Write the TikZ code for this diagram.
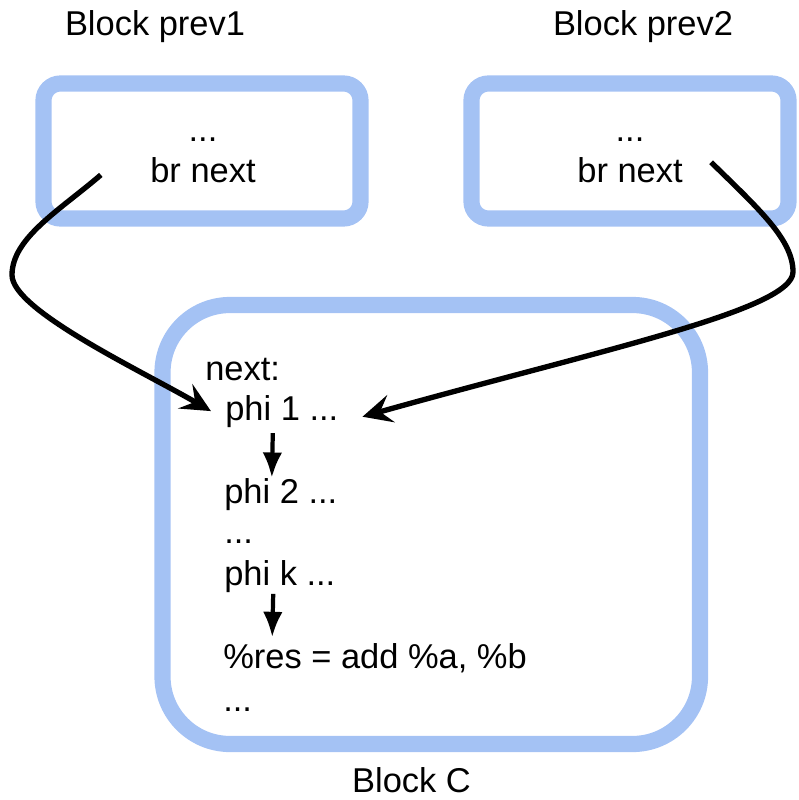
\documentclass[tikz,border=0pt]{standalone}
\usepackage{fontspec}
\setmainfont{Liberation Sans}
\usetikzlibrary{arrows.meta}
\definecolor{blockblau}{HTML}{A4C2F4}
\begin{document}
\begin{tikzpicture}[x=0.025cm,y=-0.025cm]

	% Stile
	\tikzstyle{block} = [draw=blockblau,line width=11.5pt,rounded corners=12pt]
	\tikzstyle{blocktitle} = [inner sep=0pt,anchor=base]
	\tikzstyle{code} = [inner sep=0pt,anchor=base west]
	\tikzstyle{jump} = [line width=3.8pt,-{Stealth[length=21pt,width=20pt,inset=8pt]}]
	\tikzstyle{flow} = [line width=3pt,-{Latex[length=18pt,width=14pt]}]

	\useasboundingbox (0,0) rectangle (798,800);
	\fontsize{24.5}{29.4}\selectfont

	% Bloecke
	\draw[block] (43.5,83.5) rectangle (360.5,218.5);
	\draw[block] (471.5,83.5) rectangle (788.5,218.5);
	\draw[block,rounded corners=48pt] (162.5,305) rectangle (700,744);

	% Titel
	\node[blocktitle] (t1) at (155,36) {Block prev1};
	\node[blocktitle] (t2) at (643,36) {Block prev2};
	\node[blocktitle] (tc) at (411.5,792) {Block C};

	% Vorgaenger
	\node[blocktitle] (dots1) at (203,142) {...};
	\node[blocktitle] (br1) at (203,183) {br next};
	\node[blocktitle] (dots2) at (630,142) {...};
	\node[blocktitle] (br2) at (630,183) {br next};

	% Block C
	\node[code] (next) at (205,380) {next:};
	\node[code] (phi1) at (225,420) {phi 1 ...};
	\node[code] (phi2) at (224,503) {phi 2 ...};
	\node[code] (dotsc) at (224,543) {...};
	\node[code] (phik) at (224,585) {phi k ...};
	\node[code] (res) at (223,668) {\%res = add \%a, \%b};
	\node[code] (dotse) at (223,711) {...};

	% Sprungkanten
	\draw[jump] ([xshift=-35pt,yshift=-3pt]br1.west)
		.. controls (60,210) and (12,238) .. (12,275)
		.. controls (12,310) and (140,370) .. ([xshift=-10pt]phi1.west);
	\draw[jump] ([xshift=20pt,yshift=6pt]br2.east)
		.. controls (760,210) and (793,240) .. (793,272)
		.. controls (793,310) and (600,350) .. ([xshift=17pt,yshift=-4pt]phi1.east);

	% Ablauf
	\draw[flow] ([xshift=34pt,yshift=-4pt]phi1.south west) -- ([xshift=34pt]phi2.north west);
	\draw[flow] ([xshift=35pt,yshift=-1pt]phik.south west) -- ([xshift=35pt,yshift=4pt]res.north west);

\end{tikzpicture}
\end{document}
